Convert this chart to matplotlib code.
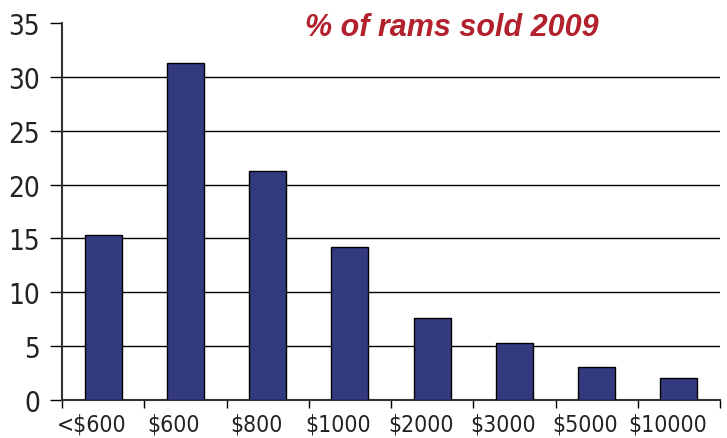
import numpy as np
import matplotlib.pyplot as plt

# price bands and share of rams sold (%)
categories = ['<$600', '$600', '$800', '$1000', '$2000', '$3000', '$5000', '$10000']
pct_sold = [15.3, 31.3, 21.3, 14.2, 7.6, 5.3, 3.1, 2.0]
y_ticks = [0, 5, 10, 15, 20, 25, 30, 35]

BAR_COLOR = '#333a80'
TITLE_COLOR = '#b3202e'

fig = plt.figure(figsize=(7.27, 4.39), dpi=100)
ax = fig.add_axes([62/727, 1 - 401/439, (720 - 62)/727, (401 - 24)/439])

x = np.arange(len(categories))
ax.bar(x, pct_sold, width=0.45, color=BAR_COLOR, edgecolor='black', linewidth=1.0, zorder=3)

# horizontal grid lines
for yv in y_ticks[1:-1]:
    ax.axhline(yv, color='black', linewidth=1.0, zorder=1)

ax.set_ylim(0, 35)
ax.set_xlim(-0.5, len(categories) - 0.5)

ax.set_yticks(y_ticks)
ax.set_yticklabels([str(v) for v in y_ticks], fontsize=20, family='DejaVu Sans',
                   fontstretch='condensed', color='#222222')
ax.tick_params(axis='y', direction='out', length=9, width=1.0, pad=7)

# tick marks between bands, labels under each band
ax.set_xticks(np.arange(len(categories) + 1) - 0.5)
ax.set_xticklabels([])
ax.tick_params(axis='x', which='major', direction='out', length=6, width=1.0)
ax.set_xticks(x - 0.14, minor=True)
ax.set_xticklabels(categories, minor=True, fontsize=16.5, family='DejaVu Sans',
                   fontstretch='condensed', color='#222222')
ax.tick_params(axis='x', which='minor', length=0, pad=9)

for side in ['top', 'right']:
    ax.spines[side].set_visible(False)
ax.spines['left'].set_linewidth(1.5)
ax.spines['bottom'].set_linewidth(1.5)
ax.spines['left'].set_color('#333333')
ax.spines['bottom'].set_color('#333333')

ax.text(0.593, 0.99, '% of rams sold 2009', transform=ax.transAxes, ha='center', va='center',
        fontsize=22, fontweight='bold', fontstyle='italic', color=TITLE_COLOR, family='Liberation Sans')

fig.savefig('out.png', dpi=100)
